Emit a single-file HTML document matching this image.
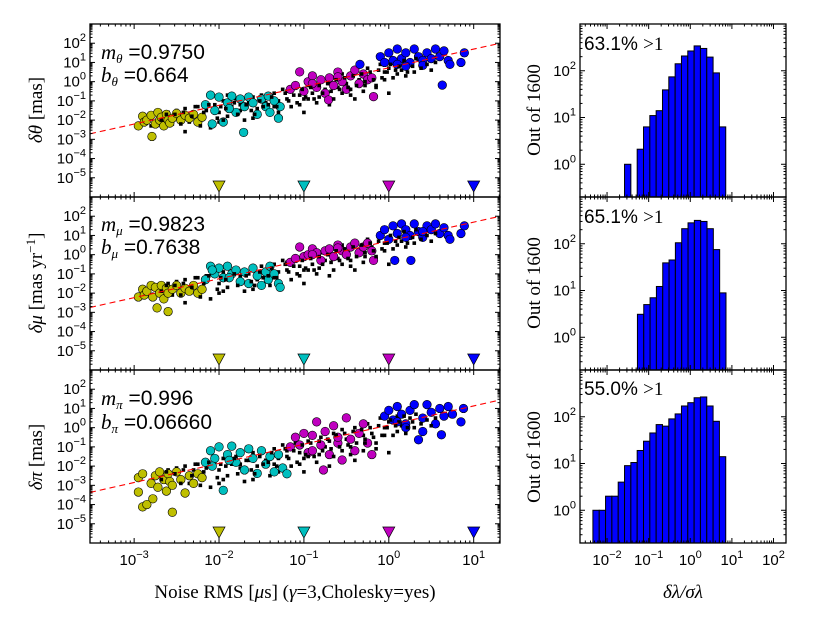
<!DOCTYPE html>
<html><head><meta charset="utf-8"><style>
html,body{margin:0;padding:0;background:#fff;}
svg{display:block;font-family:"Liberation Sans","DejaVu Sans",sans-serif;}
</style></head><body>
<svg id="fig" width="817" height="617" viewBox="0 0 817 617" xmlns="http://www.w3.org/2000/svg"></svg>
<script>
// ---------- data (log10 values) ----------
const scatterXTicks=[-3,-2,-1,0,1];
const scatterYTicks=[-5,-4,-3,-2,-1,0,1,2];
const histXTicks=[-2,-1,0,1,2];
const histYTicks=[0,1,2];
const markerX=[-2,-1,0,1];
const fitSlope=[0.975,0.9823,0.996];
const fitIntercept=[0.72,0.71,0.135];

const yelX1=[-2.95,-2.9,-2.88,-2.85,-2.8,-2.79,-2.75,-2.72,-2.7,-2.68,-2.65,-2.62,-2.6,-2.58,-2.55,-2.5,-2.45,-2.4,-2.35,-2.3,-2.25,-2.2];
const yelY1=[-2.3,-1.8,-2.1,-2.0,-1.75,-2.85,-2.2,-1.6,-2.0,-1.85,-2.3,-1.7,-2.0,-2.15,-1.9,-1.65,-2.0,-1.75,-1.9,-1.7,-2.1,-1.85];
const cyaX1=[-2.16,-2.1,-2.05,-2.0,-1.95,-1.9,-1.85,-1.8,-1.75,-1.71,-1.7,-1.65,-1.6,-1.55,-1.5,-1.45,-1.42,-1.4,-1.35,-1.3,-1.28,-2.08,-1.88];
const cyaY1=[-1.2,-0.7,-1.5,-0.8,-2.1,-1.1,-0.75,-1.6,-0.9,-2.64,-1.3,-0.8,-1.1,-1.7,-0.9,-1.3,-0.75,-1.6,-1.0,-1.9,-1.3,-2.2,-1.4];
const magX1=[-1.16,-1.1,-1.05,-1.0,-0.95,-0.9,-0.85,-0.8,-0.75,-0.71,-0.7,-0.65,-0.6,-0.55,-0.5,-0.45,-0.4,-0.35,-0.3,-0.25,-0.2,-0.18,-0.9,-0.6];
const magY1=[-0.4,-0.2,0.51,-0.5,0.0,0.3,-0.3,0.1,-0.6,-0.95,0.2,-0.2,0.5,0.0,-0.4,0.3,0.6,-0.1,0.4,0.1,0.2,-0.78,-0.1,0.25];
const bluX1=[-0.34,-0.1,-0.05,0.0,0.05,0.1,0.15,0.2,0.25,0.3,0.35,0.4,0.45,0.5,0.55,0.6,0.63,0.65,0.7,0.72,0.85,0.89,0.2,0.4,0.1];
const bluY1=[0.9,1.3,1.0,1.5,1.1,1.7,1.2,1.5,1.0,1.7,1.3,1.1,1.5,1.2,1.7,1.3,-0.18,1.6,1.1,0.9,1.0,1.5,0.8,0.85,0.9];

const yelX2=[-2.95,-2.9,-2.88,-2.85,-2.8,-2.78,-2.75,-2.73,-2.7,-2.68,-2.65,-2.62,-2.6,-2.6,-2.55,-2.5,-2.45,-2.4,-2.35,-2.3,-2.25,-2.2];
const yelY2=[-2.2,-1.8,-2.1,-1.9,-1.6,-2.2,-1.7,-2.77,-2.0,-1.6,-2.3,-1.75,-2.0,-2.96,-1.8,-1.6,-2.0,-1.75,-1.9,-1.6,-2.0,-1.8];
const cyaX2=[-2.16,-2.1,-2.05,-2.0,-1.95,-1.9,-1.85,-1.8,-1.75,-1.7,-1.65,-1.6,-1.55,-1.5,-1.45,-1.42,-1.4,-1.35,-1.3,-1.28,-2.08,-1.88];
const cyaY2=[-1.3,-0.6,-1.0,-0.7,-1.2,-0.6,-1.0,-0.8,-1.4,-0.9,-1.5,-0.7,-1.1,-1.6,-0.9,-1.3,-0.6,-1.0,-1.5,-1.7,-0.8,-1.2];
const magX2=[-1.16,-1.1,-1.05,-1.0,-0.95,-0.9,-0.85,-0.8,-0.75,-0.7,-0.65,-0.6,-0.55,-0.5,-0.45,-0.4,-0.35,-0.3,-0.25,-0.2,-0.18,-0.9,-0.6];
const magY2=[-0.4,-0.2,0.4,-0.1,0.0,0.3,0.1,-0.3,0.2,0.3,-0.1,0.5,0.2,0.0,0.4,0.6,0.1,0.4,0.6,0.2,-0.3,0.0,0.35];
const bluX2=[-0.1,-0.05,0.0,0.05,0.07,0.1,0.15,0.2,0.25,0.26,0.3,0.35,0.4,0.45,0.5,0.55,0.6,0.65,0.7,0.72,0.85,0.89,0.2,0.4];
const bluY2=[1.0,1.3,0.8,1.5,-0.3,1.1,1.6,1.3,1.0,-0.3,1.6,1.2,0.9,1.5,1.3,1.6,1.1,1.4,1.0,0.8,1.1,1.5,0.9,1.2];

const yelX3=[-2.95,-2.95,-2.9,-2.9,-2.85,-2.8,-2.78,-2.75,-2.72,-2.7,-2.65,-2.62,-2.6,-2.58,-2.55,-2.55,-2.5,-2.45,-2.4,-2.35,-2.3,-2.25,-2.2];
const yelY3=[-2.6,-3.35,-4.12,-2.4,-4.0,-2.9,-3.7,-2.5,-3.1,-2.3,-2.7,-3.3,-2.4,-2.8,-4.4,-3.0,-2.3,-2.7,-3.4,-2.5,-2.9,-2.4,-2.6];
const cyaX3=[-2.16,-2.1,-2.05,-2.0,-1.95,-1.9,-1.85,-1.8,-1.75,-1.7,-1.65,-1.6,-1.55,-1.5,-1.45,-1.4,-1.35,-1.3,-1.25,-1.2,-2.08,-1.88];
const cyaY3=[-1.8,-1.2,-1.6,-1.0,-3.26,-1.4,-0.96,-1.8,-1.3,-2.2,-1.1,-1.6,-2.38,-1.2,-1.9,-1.5,-2.3,-1.4,-2.1,-2.4,-2.0,-1.7];
const magX3=[-1.16,-1.1,-1.05,-1.0,-0.95,-0.9,-0.85,-0.8,-0.77,-0.75,-0.7,-0.65,-0.6,-0.55,-0.5,-0.45,-0.4,-0.35,-0.3,-0.25,-0.2,-0.9,-0.6];
const magY3=[-1.0,-0.5,-0.9,-0.3,-1.3,-0.4,0.3,-0.9,-2.2,-0.2,-1.4,0.1,-0.8,-1.68,0.51,-0.6,-1.2,-0.3,0.2,-0.8,-1.4,-1.2,-0.5];
const bluX3=[-0.05,0.0,0.05,0.1,0.15,0.2,0.25,0.3,0.35,0.4,0.45,0.5,0.55,0.6,0.62,0.65,0.7,0.75,0.85,0.88,0.2,0.4,0.1];
const bluY3=[0.6,0.9,0.4,1.1,0.7,0.2,0.9,1.2,-0.63,0.5,1.2,0.8,0.2,1.0,-0.37,0.6,1.1,0.7,0.3,1.0,0.0,-0.2,0.3];

const blackX=[-2.7,-2.6,-2.55,-2.5,-2.45,-2.4,-2.35,-2.3,-2.25,-2.2,-2.15,-2.1,-2.05,-2.0,-1.95,-1.9,-1.85,-1.8,-1.75,-1.7,-1.65,-1.6,-1.55,-1.5,-1.45,-1.4,-1.35,-1.3,-1.25,-1.2,-1.15,-1.1,-1.05,-1.0,-0.95,-0.9,-0.85,-0.8,-0.75,-0.7,-0.65,-0.6,-0.55,-0.5,-0.45,-0.4,-0.35,-0.3,-0.25,-0.2,-0.15,-0.1,-0.05,0.0,0.05,0.1,0.15,0.2,0.25,0.3,0.4,-2.8,-2.0,-1.3,-0.4,0.0,-1.6,-2.4,-0.9,-1.9,-2.15,-1.75,-1.2,-0.7,-0.3,0.1,-2.5,-1.0];
const blackY1=[-1.8,-1.6,-2.2,-1.5,-1.9,-1.4,-2.1,-1.6,-1.3,-1.9,-1.5,-2.4,-1.2,-1.6,-1.0,-1.8,-1.3,-0.9,-1.5,-2.0,-1.1,-0.8,-1.4,-0.7,-1.1,-1.7,-0.6,-1.0,-0.4,-0.9,-1.3,-0.3,-0.7,-1.6,-0.2,-0.6,-1.1,0.0,-0.4,-1.2,0.2,-0.3,0.4,-0.1,-0.7,0.5,0.1,-0.5,0.7,0.3,-0.3,0.9,0.5,0.7,0.2,1.0,0.6,0.3,0.9,0.5,0.8,-2.3,-2.1,-1.6,-0.9,-0.6,-1.9,-2.6,0.1,-0.7,-1.2,-1.2,-0.5,-0.1,0.3,0.4,-1.7,-0.9];
const blackY2=[-1.7,-1.5,-2.1,-1.4,-1.9,-1.3,-2.0,-1.5,-1.2,-1.8,-1.4,-2.3,-1.1,-1.5,-0.9,-1.7,-1.2,-0.8,-1.4,-1.9,-1.0,-0.7,-1.3,-0.6,-1.0,-1.6,-0.5,-0.9,-0.3,-0.8,-1.3,-0.2,-0.6,-1.5,-0.1,-0.5,-1.0,0.1,-0.3,-1.1,0.3,-0.2,0.5,0.0,-0.6,0.6,0.2,-0.4,0.8,0.4,-0.2,1.0,0.6,0.8,0.3,1.1,0.7,0.4,1.0,0.6,0.9,-2.2,-2.0,-1.5,-0.8,-0.5,-1.8,-2.5,0.2,-0.6,-1.1,-1.1,-0.4,0.0,0.4,0.5,-1.6,-0.8];
const blackY3=[-2.5,-2.2,-3.0,-2.1,-2.6,-2.0,-2.9,-2.2,-1.9,-2.6,-2.1,-3.1,-1.8,-2.2,-1.6,-2.5,-1.9,-1.5,-2.1,-2.8,-1.7,-1.3,-2.0,-1.2,-1.7,-2.5,-1.1,-1.6,-0.9,-1.5,-2.0,-0.8,-1.3,-2.3,-0.7,-1.2,-1.8,-0.5,-1.0,-2.0,-0.3,-0.9,-0.1,-0.6,-1.4,0.0,-0.4,-1.2,0.2,-0.3,-1.1,0.5,0.0,0.3,-0.4,0.6,0.1,-0.3,0.5,0.0,0.4,-3.0,-2.9,-2.3,-1.7,-1.3,-2.7,-3.4,-0.5,-1.4,-2.0,-1.9,-1.2,-0.7,-0.4,-0.2,-2.4,-1.6];

// second batch of background points (dense band)
const blackXb=[-2.68,-2.62,-2.52,-2.42,-2.32,-2.28,-2.18,-2.12,-2.02,-1.98,-1.92,-1.82,-1.78,-1.68,-1.62,-1.52,-1.48,-1.38,-1.32,-1.22,-1.18,-1.12,-1.08,-1.02,-0.98,-0.92,-0.88,-0.82,-0.78,-0.72,-0.68,-0.62,-0.58,-0.52,-0.48,-0.42,-0.38,-0.32,-0.28,-0.22,-0.18,-0.12,-0.08,-0.02,0.02,0.08,0.12,0.18,0.22,0.28,0.32,0.38,0.45,0.5,0.55,-1.42,-0.82,-0.28,-1.95,-2.45,-1.05,-0.55,-0.15,-1.58,-2.22,-0.65,-0.05,-1.35,-0.95,-0.45];
const blackYb1=[-2.0,-1.7,-1.7,-1.6,-1.8,-1.3,-1.6,-1.2,-1.9,-1.3,-1.4,-1.1,-1.7,-1.2,-1.5,-1.0,-1.3,-0.8,-1.3,-0.6,-1.0,-0.7,-1.1,-0.4,-0.8,-0.3,-0.9,-0.2,-0.6,-0.1,-0.5,0.1,-0.4,0.2,-0.3,0.3,-0.2,0.4,0.0,0.5,0.1,0.6,0.2,0.5,0.9,0.6,0.8,1.1,0.5,0.8,1.2,0.7,0.9,0.6,1.0,-1.2,-0.8,-0.2,-2.0,-2.2,-1.2,-0.6,-0.2,-1.7,-2.3,-0.9,0.1,-1.3,-0.9,-0.4];
const blackYb2=[-1.9,-1.6,-1.6,-1.5,-1.7,-1.2,-1.5,-1.1,-1.8,-1.2,-1.3,-1.0,-1.6,-1.1,-1.4,-0.9,-1.2,-0.7,-1.2,-0.5,-0.9,-0.6,-1.0,-0.3,-0.7,-0.2,-0.8,-0.1,-0.5,0.0,-0.4,0.2,-0.3,0.3,-0.2,0.4,-0.1,0.5,0.1,0.6,0.2,0.7,0.3,0.6,1.0,0.7,0.9,1.2,0.6,0.9,1.3,0.8,1.0,0.7,1.1,-1.1,-0.7,-0.1,-1.9,-2.1,-1.1,-0.5,-0.1,-1.6,-2.2,-0.8,0.2,-1.2,-0.8,-0.3];
const blackYb3=[-2.7,-2.3,-2.4,-2.2,-2.5,-1.9,-2.3,-1.8,-2.6,-1.9,-2.0,-1.6,-2.4,-1.7,-2.2,-1.5,-1.9,-1.3,-2.0,-1.1,-1.6,-1.2,-1.8,-0.9,-1.4,-0.8,-1.5,-0.7,-1.2,-0.6,-1.1,-0.4,-1.0,-0.3,-0.9,-0.2,-0.8,-0.1,-0.6,0.0,-0.5,0.1,-0.4,0.0,0.4,0.1,0.3,0.6,0.0,0.3,0.7,0.2,0.4,0.1,0.5,-1.8,-1.4,-0.8,-2.7,-2.9,-1.9,-1.2,-0.8,-2.4,-3.0,-1.5,-0.4,-1.9,-1.5,-1.0];

const histBinWidth=0.152;
const histStart=[-1.58,-1.27,-2.34];
const histCounts1=[1,0,2.1,6.3,11,14,39,74,141,207,265,340,300,196,90,6.3];
const histCounts2=[3.1,5.0,7.0,12.2,39,45,105,210,280,316,300,210,75,8.9];
const histCounts3=[1,1,2,2,4,9,10.5,19,30,45,68,63,90,115,170,200,255,265,170,80,14];

// ---------- layout ----------
const NS="http://www.w3.org/2000/svg";
const svg=document.getElementById('fig');
const tops=[24,197,370], PH=173;
const LX0=90,LX1=500,RX0=580,RX1=786;
const sx=l=>LX0+(l+3.52)/4.83*(LX1-LX0);
const sy=(l,t)=>t+(3-l)/9*PH;
const rx=l=>RX0+(l+2.65)/4.95*(RX1-RX0);
const ry=(l,t)=>t+(3-l)/3.7*PH;
function mk(tag,attrs,parent){const e=document.createElementNS(NS,tag);for(const k in attrs)e.setAttribute(k,attrs[k]);(parent||svg).appendChild(e);return e;}

function powLabel(x,y,exp,anchor,name){
  const t=mk('text',{x:x,y:y,'font-size':15,'text-anchor':anchor});
  
  
  const a=mk('tspan',{},t);a.textContent='10';
  const b=mk('tspan',{dy:-7,'font-size':11},t);b.textContent=String(exp).replace('-','\u2212');
  return t;
}

function drawFrame(x0,x1,t,xmin,xmax,ymin,ymax,fx,fy,name){
  const g=mk('g',{});
  
  
  for(let d=Math.floor(xmin);d<=Math.ceil(xmax);d++){
    for(let k=1;k<10;k++){const l=d+Math.log10(k);if(l<xmin||l>xmax)continue;const X=fx(l);const len=k==1?5:2.5;
      mk('line',{x1:X,x2:X,y1:t+PH,y2:t+PH-len,stroke:'#000','stroke-width':1},g);
      mk('line',{x1:X,x2:X,y1:t,y2:t+len,stroke:'#000','stroke-width':1},g);}
  }
  for(let d=Math.floor(ymin);d<=Math.ceil(ymax);d++){
    for(let k=1;k<10;k++){const l=d+Math.log10(k);if(l<ymin||l>ymax)continue;const Y=fy(l,t);const len=k==1?5:2.5;
      mk('line',{x1:x0,x2:x0+len,y1:Y,y2:Y,stroke:'#000','stroke-width':1},g);
      mk('line',{x1:x1,x2:x1-len,y1:Y,y2:Y,stroke:'#000','stroke-width':1},g);}
  }
  mk('rect',{x:x0,y:t,width:x1-x0,height:PH,fill:'none',stroke:'#000','stroke-width':1.3},g);
}

const colors={yel:'#bfbf00',cya:'#00bfbf',mag:'#bf00bf',blu:'#0000ff'};
const sets=[
 {by:blackY1,bby:blackYb1,c:[[yelX1,yelY1,'yel'],[cyaX1,cyaY1,'cya'],[magX1,magY1,'mag'],[bluX1,bluY1,'blu']]},
 {by:blackY2,bby:blackYb2,c:[[yelX2,yelY2,'yel'],[cyaX2,cyaY2,'cya'],[magX2,magY2,'mag'],[bluX2,bluY2,'blu']]},
 {by:blackY3,bby:blackYb3,c:[[yelX3,yelY3,'yel'],[cyaX3,cyaY3,'cya'],[magX3,magY3,'mag'],[bluX3,bluY3,'blu']]}
];
const panelNames=['theta','mu','pi'];
const hists=[histCounts1,histCounts2,histCounts3];

function blackPt(g,lx,ly,t){
  const r=mk('rect',{x:sx(lx)-1.8,y:sy(ly,t)-1.8,width:3.6,height:3.6,fill:'#000'},g);
  
  
}

sets.forEach((s,i)=>{
  const t=tops[i];
  const g=mk('g',{});
  
  
  blackX.forEach((lx,j)=>blackPt(g,lx,s.by[j],t));
  s.c.forEach(([xs,ys,col])=>{
    xs.forEach((lx,j)=>{
      const c=mk('circle',{cx:sx(lx),cy:sy(ys[j],t),r:4.3,fill:colors[col],stroke:'#000','stroke-width':0.6},g);
      
      
    });
  });
  blackXb.forEach((lx,j)=>blackPt(g,lx,s.bby[j],t));
  const xa=-3.52,xb=1.31;
  const fl=mk('line',{x1:sx(xa),y1:sy(fitSlope[i]*xa+fitIntercept[i],t),x2:sx(xb),y2:sy(fitSlope[i]*xb+fitIntercept[i],t),stroke:'#ff0000','stroke-width':1.1,'stroke-dasharray':'6,4'});
  
  
  const mcol=['yel','cya','mag','blu'];
  markerX.forEach((lx,j)=>{
    const X=sx(lx),Y=t+PH-11;
    const p=mk('polygon',{points:`${X-6},${Y-5} ${X+6},${Y-5} ${X},${Y+6}`,fill:colors[mcol[j]],stroke:'#000','stroke-width':0.7});
    
    
  });
  drawFrame(LX0,LX1,t,-3.52,1.31,-6,3,sx,sy,'scatter-axes-'+panelNames[i]);
  scatterYTicks.forEach(l=>powLabel(LX0-4,sy(l,t)+5,l,'end','y-tick-label'));
  if(i==2) scatterXTicks.forEach(l=>powLabel(sx(l),t+PH+22,l,'middle','x-tick-label'));

  const hg=mk('g',{});
  
  
  const yb=-0.7;
  hists[i].forEach((v,j)=>{
    if(v<=0)return;
    const l0=histStart[i]+j*histBinWidth;
    const X0=rx(l0),X1=rx(l0+histBinWidth),Y=ry(Math.log10(v),t);
    const b=mk('rect',{x:X0,y:Y,width:X1-X0,height:ry(yb,t)-Y,fill:'#0000ff',stroke:'#000','stroke-width':1},hg);
    
    
  });
  drawFrame(RX0,RX1,t,-2.65,2.3,-0.7,3,rx,ry,'hist-axes-'+panelNames[i]);
  histYTicks.forEach(l=>powLabel(RX0-4,ry(l,t)+5,l,'end','hist-y-tick-label'));
  if(i==2) histXTicks.forEach(l=>powLabel(rx(l),t+PH+22,l,'middle','hist-x-tick-label'));
});
</script>
<svg width="817" height="617" style="position:absolute;left:0;top:0;pointer-events:none" xmlns="http://www.w3.org/2000/svg">
  <g font-size="21">
    <text x="101" y="59"><tspan font-style="italic" font-family="Liberation Serif,serif">m</tspan><tspan font-size="13" dy="4" font-style="italic" font-family="Liberation Serif,serif">θ</tspan><tspan dy="-4"> =0.9750</tspan></text>
    <text x="101" y="82"><tspan font-style="italic" font-family="Liberation Serif,serif">b</tspan><tspan font-size="13" dy="4" font-style="italic" font-family="Liberation Serif,serif">θ</tspan><tspan dy="-4"> =0.664</tspan></text>
    <text x="101" y="231"><tspan font-style="italic" font-family="Liberation Serif,serif">m</tspan><tspan font-size="13" dy="4" font-style="italic" font-family="Liberation Serif,serif">μ</tspan><tspan dy="-4"> =0.9823</tspan></text>
    <text x="101" y="254"><tspan font-style="italic" font-family="Liberation Serif,serif">b</tspan><tspan font-size="13" dy="4" font-style="italic" font-family="Liberation Serif,serif">μ</tspan><tspan dy="-4"> =0.7638</tspan></text>
    <text x="101" y="405"><tspan font-style="italic" font-family="Liberation Serif,serif">m</tspan><tspan font-size="13" dy="4" font-style="italic" font-family="Liberation Serif,serif">π</tspan><tspan dy="-4"> =0.996</tspan></text>
    <text x="101" y="429"><tspan font-style="italic" font-family="Liberation Serif,serif">b</tspan><tspan font-size="13" dy="4" font-style="italic" font-family="Liberation Serif,serif">π</tspan><tspan dy="-4"> =0.06660</tspan></text>
  </g>
  <g font-size="19">
    <text x="584" y="50">63.1% <tspan font-family="Liberation Serif,serif">&gt;1</tspan></text>
    <text x="584" y="223">65.1% <tspan font-family="Liberation Serif,serif">&gt;1</tspan></text>
    <text x="584" y="395">55.0% <tspan font-family="Liberation Serif,serif">&gt;1</tspan></text>
  </g>
  <g font-family="Liberation Serif,serif" font-size="19">
    <text transform="translate(42,110) rotate(-90)" text-anchor="middle"><tspan font-style="italic">δθ</tspan> [mas]</text>
    <text transform="translate(42,283) rotate(-90)" text-anchor="middle"><tspan font-style="italic">δμ</tspan> [mas yr<tspan dy="-7" font-size="13">−1</tspan><tspan dy="7">]</tspan></text>
    <text transform="translate(42,457) rotate(-90)" text-anchor="middle"><tspan font-style="italic">δπ</tspan> [mas]</text>
    <text transform="translate(540,110) rotate(-90)" text-anchor="middle">Out of 1600</text>
    <text transform="translate(540,283) rotate(-90)" text-anchor="middle">Out of 1600</text>
    <text transform="translate(540,457) rotate(-90)" text-anchor="middle">Out of 1600</text>
    <text x="295" y="598" text-anchor="middle">Noise RMS [<tspan font-style="italic">μ</tspan>s] (<tspan font-style="italic">γ</tspan>=3,Cholesky=yes)</text>
    <text x="683" y="598" text-anchor="middle"><tspan font-style="italic">δλ/σλ</tspan></text>
  </g>
</svg>
</body></html>
